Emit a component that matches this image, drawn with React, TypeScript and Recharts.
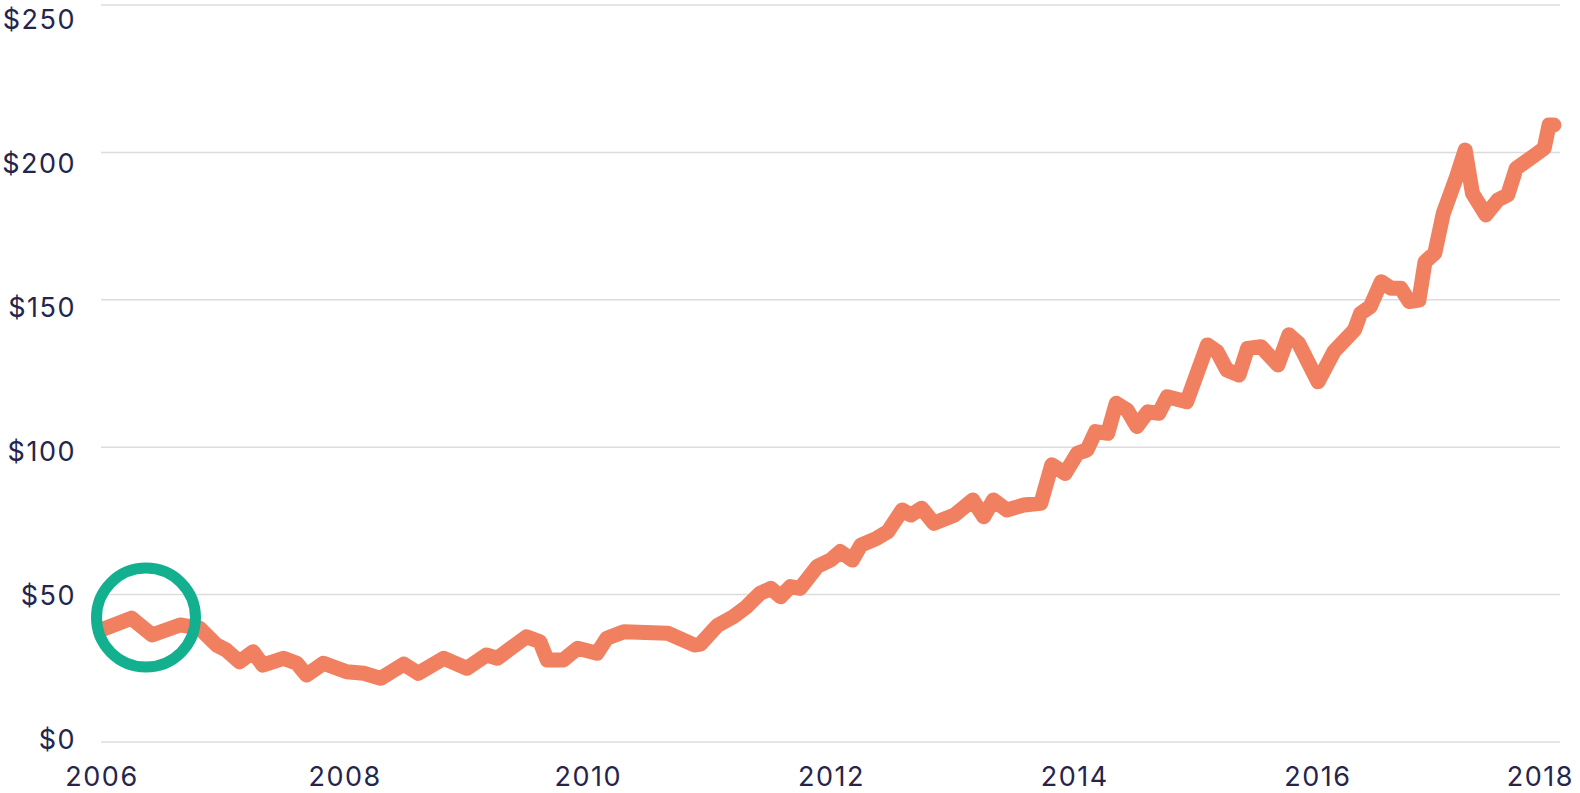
import { LineChart, Line, XAxis, YAxis, CartesianGrid, ReferenceDot } from 'recharts'

const years = [
  2006.0, 2006.25, 2006.42, 2006.65, 2006.81, 2006.95, 2007.03, 2007.14, 2007.25, 2007.33,
  2007.5, 2007.61, 2007.69, 2007.83, 2008.02, 2008.16, 2008.3, 2008.49, 2008.61, 2008.82,
  2009.01, 2009.17, 2009.26, 2009.37, 2009.5, 2009.61, 2009.67, 2009.8, 2009.92, 2010.08,
  2010.16, 2010.3, 2010.66, 2010.88, 2010.93, 2011.07, 2011.2, 2011.31, 2011.42, 2011.51,
  2011.59, 2011.67, 2011.75, 2011.89, 2012.0, 2012.08, 2012.18, 2012.25, 2012.38, 2012.47,
  2012.59, 2012.66, 2012.75, 2012.85, 2013.02, 2013.17, 2013.26, 2013.34, 2013.45, 2013.59,
  2013.73, 2013.82, 2013.93, 2014.03, 2014.11, 2014.18, 2014.28, 2014.35, 2014.44, 2014.52,
  2014.61, 2014.7, 2014.77, 2014.93, 2015.1, 2015.18, 2015.26, 2015.36, 2015.43, 2015.54,
  2015.68, 2015.77, 2015.85, 2016.01, 2016.14, 2016.31, 2016.36, 2016.44, 2016.53, 2016.61,
  2016.69, 2016.76, 2016.84, 2016.89, 2016.97, 2017.04, 2017.15, 2017.22, 2017.28, 2017.39,
  2017.49, 2017.57, 2017.64, 2017.76, 2017.87, 2017.91, 2017.95,
]

const prices = [
  38.0, 42.0, 36.3, 39.7, 38.6, 32.9, 31.2, 27.2, 30.6, 26.1,
  28.4, 26.7, 22.7, 26.7, 23.8, 23.3, 21.6, 26.4, 23.3, 28.4,
  25.0, 29.5, 28.4, 31.8, 35.7, 34.0, 27.8, 27.8, 31.8, 30.1,
  35.2, 37.4, 36.9, 32.9, 33.2, 39.5, 42.5, 45.9, 50.4, 52.1,
  49.3, 52.7, 52.1, 59.5, 61.7, 64.6, 61.7, 66.8, 69.1, 71.3,
  78.7, 77.0, 79.3, 74.2, 77.0, 82.1, 76.4, 82.1, 78.7, 80.4,
  81.0, 94.0, 91.1, 97.9, 99.1, 105.3, 104.7, 114.9, 112.6, 107.0,
  112.0, 111.5, 117.1, 115.4, 134.7, 132.4, 126.2, 124.5, 133.5, 134.1,
  127.9, 138.1, 135.2, 122.2, 132.4, 139.8, 145.4, 147.7, 156.1, 153.9,
  153.9, 149.4, 149.9, 162.9, 165.8, 179.3, 191.8, 200.8, 186.1, 178.8,
  183.9, 185.6, 194.6, 198.1, 201.4, 209.3, 209.3,
]

const xTicks = [2006, 2008, 2010, 2012, 2014, 2016, 2018]
const yTicks = [0, 50, 100, 150, 200, 250]

// highlighted point at the start of the series
const highlight = { year: 2006.37, price: 42.2 }

const data = years.map((year, i) => ({ year, price: prices[i] }))

const textColor = '#25254b'
const font = 'Inter, "Noto Sans", sans-serif'

const YTick = ({ x, y, payload }: any) => (
  <text
    x={x - 25}
    y={y + 7 + (17 * payload.value) / 250}
    textAnchor="end"
    fill={textColor}
    fontSize={27}
    letterSpacing={1.5}
    fontFamily={font}
  >
    ${payload.value}
  </text>
)

const XTick = ({ x, y, payload }: any) => {
  const last = payload.value === xTicks[xTicks.length - 1]
  return (
    <text
      x={last ? x + 14 : x + 1}
      y={y + 44}
      textAnchor={last ? 'end' : 'middle'}
      fill={textColor}
      fontSize={27}
      letterSpacing={1.5}
      fontFamily={font}
    >
      {payload.value}
    </text>
  )
}

export default function App() {
  return (
    <div style={{ position: 'absolute', left: 0, top: 0, width: 1580, height: 793, background: '#fff' }}>
      <LineChart width={1580} height={793} data={data} margin={{ top: 5, right: 20, left: 0, bottom: 0 }}>
        <CartesianGrid vertical={false} stroke="#dcdcdf" strokeWidth={1.5} />
        <XAxis
          type="number"
          dataKey="year"
          domain={[2006, 2018]}
          ticks={xTicks}
          height={51}
          axisLine={false}
          tickLine={false}
          tickSize={0}
          tickMargin={0}
          tick={<XTick />}
          interval={0}
        />
        <YAxis
          domain={[0, 250]}
          ticks={yTicks}
          width={101}
          axisLine={false}
          tickLine={false}
          tickSize={0}
          tickMargin={0}
          tick={<YTick />}
          interval={0}
        />
        <Line
          type="linear"
          dataKey="price"
          stroke="#f08060"
          strokeWidth={15}
          strokeLinejoin="round"
          strokeLinecap="round"
          dot={false}
          activeDot={false}
          isAnimationActive={false}
        />
        <ReferenceDot
          x={highlight.year}
          y={highlight.price}
          r={49.5}
          fill="none"
          stroke="#13b08f"
          strokeWidth={11}
          ifOverflow="visible"
        />
      </LineChart>
    </div>
  )
}
